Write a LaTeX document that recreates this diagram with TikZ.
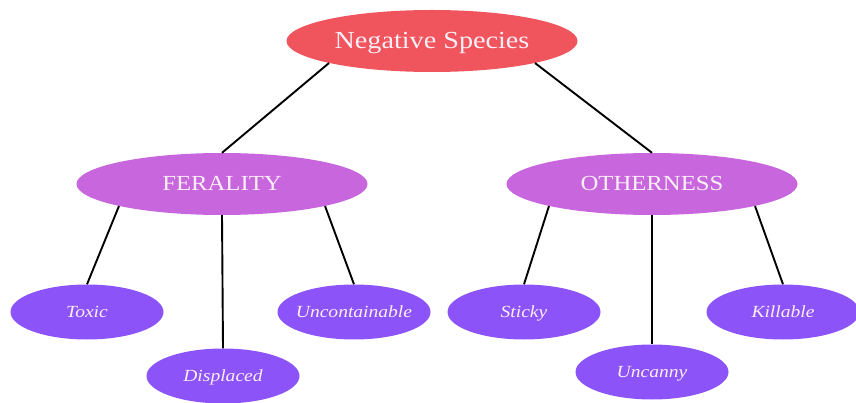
\documentclass[tikz,border=0pt]{standalone}
\usepackage{fontspec}
\setmainfont[FakeStretch=1.15]{Liberation Serif}
\usetikzlibrary{shapes.geometric}
\definecolor{negred}{RGB}{240,84,92}
\definecolor{midviolet}{RGB}{200,102,222}
\definecolor{leafpurple}{RGB}{140,84,248}
\definecolor{paletext}{RGB}{252,238,246}

\begin{document}
\begin{tikzpicture}[x=1pt, y=-1pt,
    root/.style={ellipse, fill=negred, minimum width=291pt, minimum height=62pt, inner sep=0pt, text=paletext, text height=16pt, text depth=0pt, font=\fontsize{24.5}{27}\selectfont},
    branch/.style={ellipse, fill=midviolet, minimum width=291pt, minimum height=62pt, inner sep=0pt, text=paletext, text height=14pt, text depth=0pt, font=\fontsize{21.5}{24}\selectfont},
    leaf/.style={ellipse, fill=leafpurple, minimum width=153pt, minimum height=55pt, inner sep=0pt, text=paletext, text height=11pt, text depth=0pt, font=\fontsize{17}{19}\selectfont\itshape},
    link/.style={draw=black, line width=1.9pt}
]
    \useasboundingbox (0,0) rectangle (856,403);
    \node[root] (neg) at (432, 41) {Negative Species};
    \node[branch] (feral) at (222, 184) {FERALITY};
    \node[branch] (other) at (652, 184) {OTHERNESS};
    \node[leaf] (toxic) at (87, 312) {Toxic};
    \node[leaf] (displ) at (223, 376) {Displaced};
    \node[leaf] (uncont) at (354, 312) {\makebox[0pt]{Uncontainable}};
    \node[leaf] (sticky) at (524, 312) {Sticky};
    \node[leaf] (uncanny) at (652, 372) {Uncanny};
    \node[leaf] (kill) at (783, 312) {Killable};
    \draw[link] (neg.south west) -- (feral.north);
    \draw[link] (neg.south east) -- (other.north);
    \draw[link] (feral.south west) -- (toxic.north);
    \draw[link] (feral.south) -- (displ.north);
    \draw[link] (feral.south east) -- (uncont.north);
    \draw[link] (other.south west) -- (sticky.north);
    \draw[link] (other.south) -- (uncanny.north);
    \draw[link] (other.south east) -- (kill.north);
\end{tikzpicture}
\end{document}
